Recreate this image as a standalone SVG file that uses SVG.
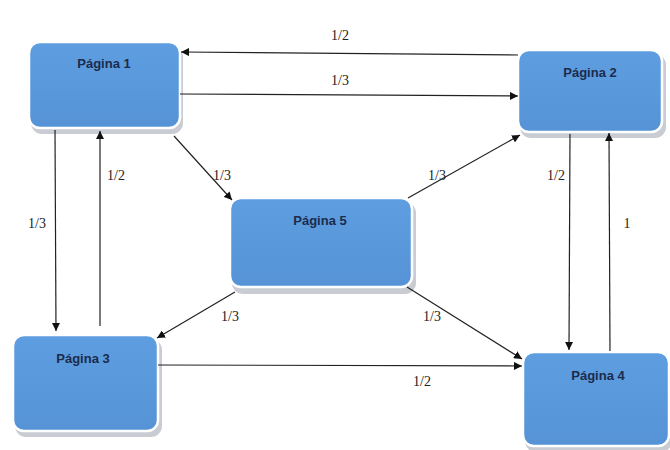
<svg xmlns="http://www.w3.org/2000/svg" width="670" height="450" viewBox="0 0 670 450">
<defs>
<linearGradient id="g" x1="0" y1="0" x2="0" y2="1">
<stop offset="0" stop-color="#5e9ee0"/>
<stop offset="1" stop-color="#5593d6"/>
</linearGradient>
<marker id="ah" viewBox="0 0 10 10" refX="10" refY="5" markerWidth="8" markerHeight="8" markerUnits="userSpaceOnUse" orient="auto">
<path d="M0,0 L10,5 L0,10 z" fill="#111"/>
</marker>
</defs>
<style>
.shadow{fill:#c9ccd2;}
.box{fill:url(#g);stroke:#ffffff;stroke-width:2.5;}
.nt{font-family:"Liberation Sans",Arial,sans-serif;font-weight:bold;font-size:13px;fill:#1b2b4b;text-anchor:middle;}
.lb{font-family:"Liberation Serif","Times New Roman",serif;font-size:14px;fill:#222;text-anchor:middle;}
.c line{stroke:#222;stroke-width:1.2;marker-end:url(#ah);}
</style>
<rect width="670" height="450" fill="#ffffff"/>
<g id="pagina1">
<rect class="shadow" x="31" y="46" width="152" height="88" rx="11"/>
<rect class="box" x="29" y="42" width="151" height="86" rx="11"/>
<text class="nt" x="104" y="68">Página 1</text>
</g>
<g id="pagina2">
<rect class="shadow" x="520" y="54" width="146" height="84" rx="11"/>
<rect class="box" x="518" y="50" width="144" height="82" rx="11"/>
<text class="nt" x="590" y="77">Página 2</text>
</g>
<g id="pagina5">
<rect class="shadow" x="232" y="202" width="184" height="92" rx="11"/>
<rect class="box" x="230" y="198" width="182" height="89" rx="11"/>
<text class="nt" x="320" y="225">Página 5</text>
</g>
<g id="pagina3">
<rect class="shadow" x="15" y="339" width="147" height="98" rx="11"/>
<rect class="box" x="13" y="335" width="145" height="96" rx="11"/>
<text class="nt" x="83" y="363">Página 3</text>
</g>
<g id="pagina4">
<rect class="shadow" x="525" y="356" width="147" height="96" rx="11"/>
<rect class="box" x="523" y="352" width="146" height="94" rx="11"/>
<text class="nt" x="598" y="380">Página 4</text>
</g>
<g id="connectors" class="c">
<line x1="518" y1="55" x2="181" y2="52"/>
<line x1="180" y1="94" x2="518" y2="96"/>
<line x1="174" y1="136" x2="232" y2="200"/>
<line x1="408" y1="198" x2="520" y2="135"/>
<line x1="55" y1="130" x2="56" y2="331"/>
<line x1="100" y1="326" x2="100" y2="131"/>
<line x1="235" y1="292" x2="157" y2="338"/>
<line x1="407" y1="287" x2="522" y2="359"/>
<line x1="158" y1="365" x2="522" y2="366"/>
<line x1="570" y1="134" x2="569" y2="350"/>
<line x1="610" y1="351" x2="609" y2="133"/>
</g>
<g id="labels">
<text class="lb" x="340" y="40">1/2</text>
<text class="lb" x="340" y="85">1/3</text>
<text class="lb" x="222" y="180">1/3</text>
<text class="lb" x="437" y="180">1/3</text>
<text class="lb" x="37" y="228">1/3</text>
<text class="lb" x="116" y="180">1/2</text>
<text class="lb" x="556" y="180">1/2</text>
<text class="lb" x="627" y="228">1</text>
<text class="lb" x="230" y="321">1/3</text>
<text class="lb" x="432" y="321">1/3</text>
<text class="lb" x="422" y="386">1/2</text>
</g>
</svg>
